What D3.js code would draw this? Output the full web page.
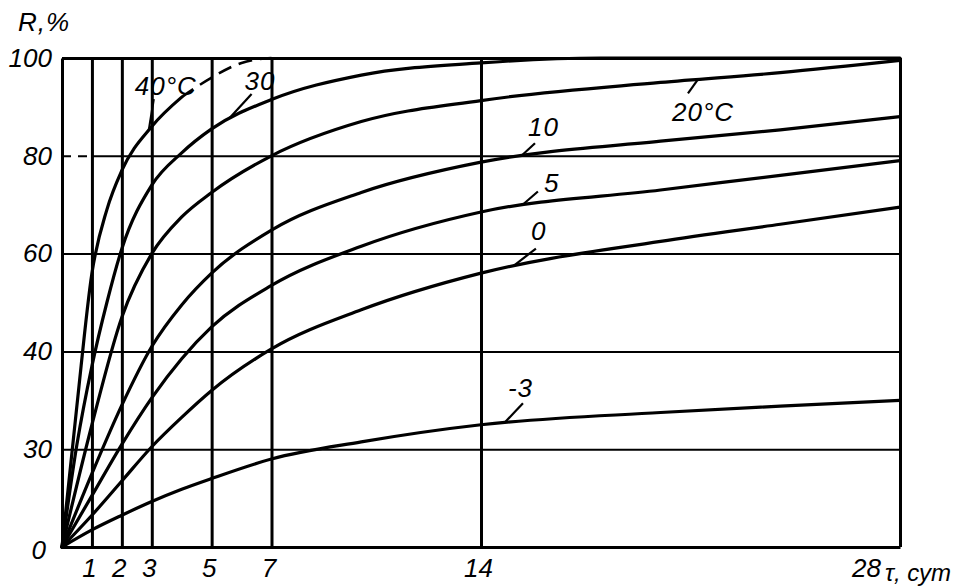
<!DOCTYPE html>
<html><head><meta charset="utf-8">
<script src="https://cdn.jsdelivr.net/npm/d3@7"></script>
<style>body{margin:0;background:#fff}svg{display:block}</style>
</head><body><svg id="c" width="963" height="586"></svg>
<script>
// ---- data ----
const xTickValues = [1, 2, 3, 5, 7, 14, 28];
const xTickLabels = ["1", "2", "3", "5", "7", "14", "28"];
const yTickValues = [0, 20, 40, 60, 80, 100];
const yTickLabels = ["0", "30", "40", "60", "80", "100"];
const seriesNames = ["40°C", "30", "20°C", "10", "5", "0", "-3"];

const days40 = [0, 0.5, 1, 1.5, 2, 3, 4, 5, 6, 7];
const r40    = [0, 29, 56, 69, 77, 86, 92, 96, 99, 100];
const days30 = [0, 0.5, 1, 1.5, 2, 3, 4, 5, 7, 10, 14, 18, 28];
const r30    = [0, 21, 37, 50, 61, 74, 80.6, 85.5, 91.5, 96.5, 99, 100, 100];
const daysStd = [0, 1, 2, 3, 4, 5, 7, 10, 14, 20, 24, 28];
const r20    = [0, 25, 47, 60, 67.5, 72.5, 80, 87, 91.3, 95, 97, 99.5];
const r10    = [0, 15, 29, 41, 49.5, 56, 64.8, 72.5, 78.7, 83, 85.3, 88];
const r5     = [0, 10.5, 21, 30.5, 38.5, 45, 53.5, 61.5, 68.5, 73, 76, 79];
const r0     = [0, 6.5, 13.5, 20.5, 26.5, 32, 40.5, 48.5, 56, 62.5, 66, 69.5];
const rM3    = [0, 3.5, 6.5, 9.3, 11.8, 14, 18, 21.5, 25, 27.5, 28.8, 30];

const seriesDays = [days40, days30, daysStd, daysStd, daysStd, daysStd, daysStd];
const seriesVals = [r40, r30, r20, r10, r5, r0, rM3];
// day on each curve where its label's leader touches it
const labelDays = [2.9, 5.6, 21.25, 15.37, 15.4, 15.1, 14.8];

// ---- drawing ----
const FONT = "'Liberation Sans', Arial, sans-serif";
const svg = d3.select("#c");
const X = d3.scaleLinear().domain([0, 28]).range([62, 900]);
const Y = d3.scaleLinear().domain([0, 100]).range([547, 58]);

function styleText(sel, size) {
  sel.attr("font-family", FONT).attr("font-style", "italic")
     .attr("font-size", size).attr("fill", "#000");
}

// x axis with vertical grid lines
const gx = svg.append("g").attr("transform", `translate(0,${Y(0)})`)
  .call(d3.axisBottom(X).tickValues(xTickValues)
    .tickFormat((d, i) => xTickLabels[i])
    .tickSizeInner(-(Y(0) - Y(100))).tickSizeOuter(0).tickPadding(12));
gx.select(".domain").attr("stroke", "#000").attr("stroke-width", 3);
gx.selectAll(".tick line").attr("stroke", "#000").attr("stroke-width", 3);
gx.selectAll(".tick text").call(styleText, 26)
  .attr("dx", d => d === 28 ? -34 : -3);

// y axis with horizontal grid lines
const gy = svg.append("g").attr("transform", `translate(${X(0)},0)`)
  .call(d3.axisLeft(Y).tickValues(yTickValues)
    .tickFormat((d, i) => yTickLabels[i])
    .tickSizeInner(-(X(28) - X(0))).tickSizeOuter(0).tickPadding(10));
gy.select(".domain").attr("stroke", "#000").attr("stroke-width", 3);
gy.selectAll(".tick line").attr("stroke", "#000")
  .attr("stroke-width", d => d === 100 ? 3 : 2);
gy.selectAll(".tick").filter(d => d === 0).select("line").remove();
gy.selectAll(".tick").filter(d => d === 0).select("text").attr("dx", -6).attr("dy", "0.45em");
gy.selectAll(".tick").filter(d => d === 80).each(function () {
  const g = d3.select(this);
  const w = X(1) - X(0);
  g.select("line").attr("x1", w);
  g.append("line").attr("x1", 0).attr("x2", w)
    .attr("stroke", "#000").attr("stroke-width", 2).attr("stroke-dasharray", "9,7");
});
gy.selectAll(".tick text").call(styleText, 26);

// axis titles
svg.append("text").attr("x", 18).attr("y", 31).attr("letter-spacing", 1)
  .text("R,%").call(styleText, 26);
svg.append("text").attr("x", X(28) - 15).attr("y", 581)
  .text("τ, сут").call(styleText, 24);

// curves
const line = d3.line().x(d => X(d.t)).y(d => Y(d.r)).curve(d3.curveMonotoneX);
const curvePaths = [];
seriesVals.forEach((vals, i) => {
  const pts = seriesDays[i].map((t, k) => ({ t: t, r: vals[k] }));
  let p;
  if (i === 0) {
    p = svg.append("path").datum(pts.filter(d => d.t <= 4)).attr("d", line)
      .attr("fill", "none").attr("stroke", "#000").attr("stroke-width", 3.2)
      .attr("stroke-linecap", "round");
    svg.append("path").datum(pts.filter(d => d.t >= 4)).attr("d", line)
      .attr("fill", "none").attr("stroke", "#000").attr("stroke-width", 2.6)
      .attr("stroke-dasharray", "14,8");
  } else {
    p = svg.append("path").datum(pts).attr("d", line)
      .attr("fill", "none").attr("stroke", "#000").attr("stroke-width", 3.2)
      .attr("stroke-linecap", "round");
  }
  curvePaths.push(p.node());
});

function pointAtX(node, px) {
  let lo = 0, hi = node.getTotalLength();
  for (let k = 0; k < 40; k++) {
    const mid = (lo + hi) / 2;
    if (node.getPointAtLength(mid).x < px) lo = mid; else hi = mid;
  }
  return node.getPointAtLength((lo + hi) / 2);
}

// label layout (pixel offsets relative to the leader's anchor on the curve)
const labelLayout = [
  { lx: 5,   ly: -31, dx: -14, dy: -35 },
  { lx: 22,  ly: -24, dx: 15,  dy: -28 },
  { lx: -10, ly: 14,  dx: -26, dy: 42 },
  { lx: 13,  ly: -12, dx: 6,   dy: -19 },
  { lx: 15,  ly: -13, dx: 21,  dy: -12 },
  { lx: 22,  ly: -17, dx: 17,  dy: -26 },
  { lx: 18,  ly: -19, dx: 3,   dy: -25 }
];
seriesNames.forEach((name, i) => {
  const a = pointAtX(curvePaths[i], X(labelDays[i]));
  const L = labelLayout[i];
  svg.append("line").attr("x1", a.x).attr("y1", a.y)
    .attr("x2", a.x + L.lx).attr("y2", a.y + L.ly)
    .attr("stroke", "#000").attr("stroke-width", 2.2);
  svg.append("text").attr("x", a.x + L.dx).attr("y", a.y + L.dy)
    .attr("letter-spacing", 1).text(name).call(styleText, 26);
});
</script></body></html>
